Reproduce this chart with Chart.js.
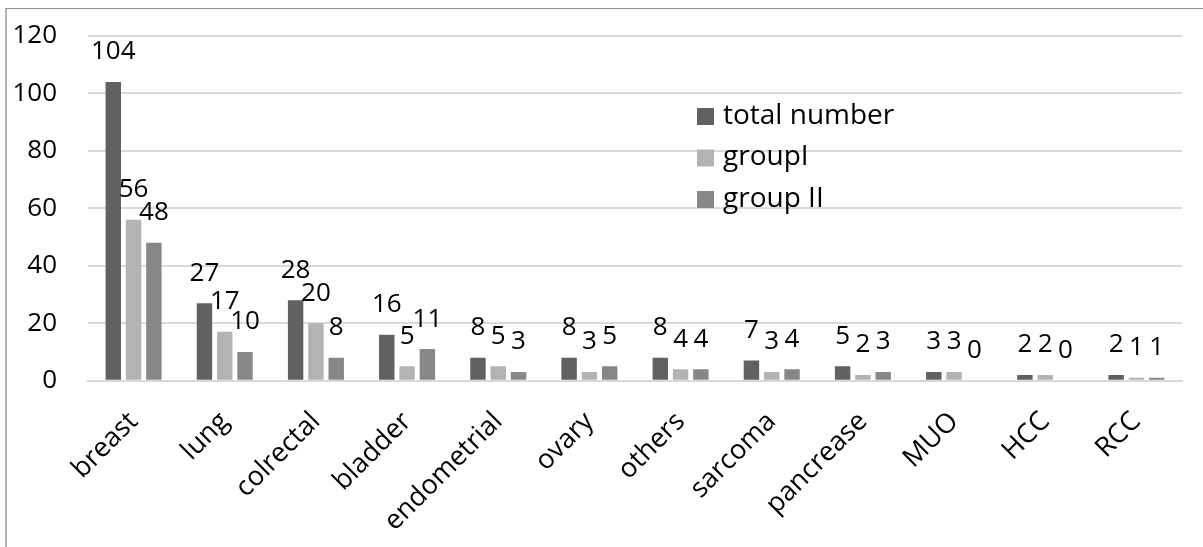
<!DOCTYPE html>
<html>
<head>
<meta charset="utf-8">
<script src="https://cdn.jsdelivr.net/npm/chart.js@4"></script>
<style>
  html, body { margin: 0; padding: 0; background: #fff; }
  #wrap { position: relative; width: 1203px; height: 547px; overflow: hidden; }
  #frame { position: absolute; left: 5px; top: 8px; width: 1300px; height: 700px;
           border-left: 2px solid #b4b4b4; border-top: 1px solid #8c8c8c; box-sizing: border-box; }
  canvas { position: absolute; left: 0; top: 0; }
</style>
</head>
<body>
<div id="wrap">
  <div id="frame"></div>
  <canvas id="chart" width="1203" height="547"></canvas>
</div>
<script>
// Cancer sites and patient counts
const categories = ['breast', 'lung', 'colrectal', 'bladder', 'endometrial', 'ovary',
                    'others', 'sarcoma', 'pancrease', 'MUO', 'HCC', 'RCC'];
const totalNumber = [104, 27, 28, 16, 8, 8, 8, 7, 5, 3, 2, 2];
const groupI      = [56, 17, 20, 5, 5, 3, 4, 3, 2, 3, 2, 1];
const groupII     = [48, 10, 8, 11, 3, 5, 4, 4, 3, 0, 0, 1];
const seriesNames = ['total number', 'groupI', 'group II'];
const yTicks = [0, 20, 40, 60, 80, 100, 120];

const FONT = "'Open Sans', sans-serif";
const FONT_SIZE = 26;
const CATEGORY_FONT_SIZE = 27;
const LEGEND_FONT_SIZE = 28;

// Value labels drawn above each bar
const valueLabels = {
  id: 'valueLabels',
  afterDatasetsDraw(chart) {
    const ctx = chart.ctx;
    ctx.save();
    ctx.font = FONT_SIZE + 'px ' + FONT;
    ctx.fillStyle = '#000';
    ctx.textAlign = 'center';
    ctx.textBaseline = 'middle';
    chart.data.datasets.forEach((ds, i) => {
      chart.getDatasetMeta(i).data.forEach((bar, j) => {
        ctx.fillText(String(ds.data[j]), bar.x, bar.y - 30);
      });
    });
    ctx.restore();
  }
};

// Legend stacked inside the plot area
const innerLegend = {
  id: 'innerLegend',
  afterDraw(chart) {
    const ctx = chart.ctx;
    ctx.save();
    ctx.font = LEGEND_FONT_SIZE + 'px ' + FONT;
    ctx.textBaseline = 'middle';
    ctx.textAlign = 'left';
    chart.data.datasets.forEach((ds, i) => {
      const cy = 116 + i * 41.5;
      ctx.fillStyle = ds.backgroundColor;
      ctx.fillRect(697, cy - 8, 17, 17);
      ctx.fillStyle = '#000';
      ctx.fillText(ds.label, 723, cy);
    });
    ctx.restore();
  }
};

new Chart(document.getElementById('chart'), {
  type: 'bar',
  data: {
    labels: categories,
    datasets: [
      { label: seriesNames[0], data: totalNumber, backgroundColor: '#616161' },
      { label: seriesNames[1], data: groupI,      backgroundColor: '#b3b3b3' },
      { label: seriesNames[2], data: groupII,     backgroundColor: '#878787' }
    ]
  },
  options: {
    responsive: false,
    animation: false,
    categoryPercentage: 0.668,
    barPercentage: 0.76,
    layout: { padding: { left: 0, right: 21, top: 36, bottom: 0 } },
    plugins: {
      legend: { display: false },
      tooltip: { enabled: false }
    },
    scales: {
      x: {
        grid: { display: false, drawTicks: false },
        border: { display: true, color: '#d9d9d9', width: 2 },
        ticks: {
          color: '#000',
          font: { family: FONT, size: CATEGORY_FONT_SIZE },
          minRotation: 45, maxRotation: 45,
          padding: 25
        },
        afterFit(scale) { scale.height = 166.3; }
      },
      y: {
        min: 0, max: 120,
        grid: { color: '#d9d9d9', lineWidth: 2, drawTicks: false },
        border: { display: false },
        afterBuildTicks(scale) { scale.ticks = yTicks.map(v => ({ value: v })); },
        ticks: {
          color: '#000',
          font: { family: FONT, size: FONT_SIZE },
          padding: 31
        },
        afterFit(scale) {
          scale.width = 88;
          // keep the label gap from inflating the top margin
          scale.paddingTop = 16;
          scale.paddingBottom = 16;
        }
      }
    }
  },
  plugins: [valueLabels, innerLegend]
});
</script>
</body>
</html>
